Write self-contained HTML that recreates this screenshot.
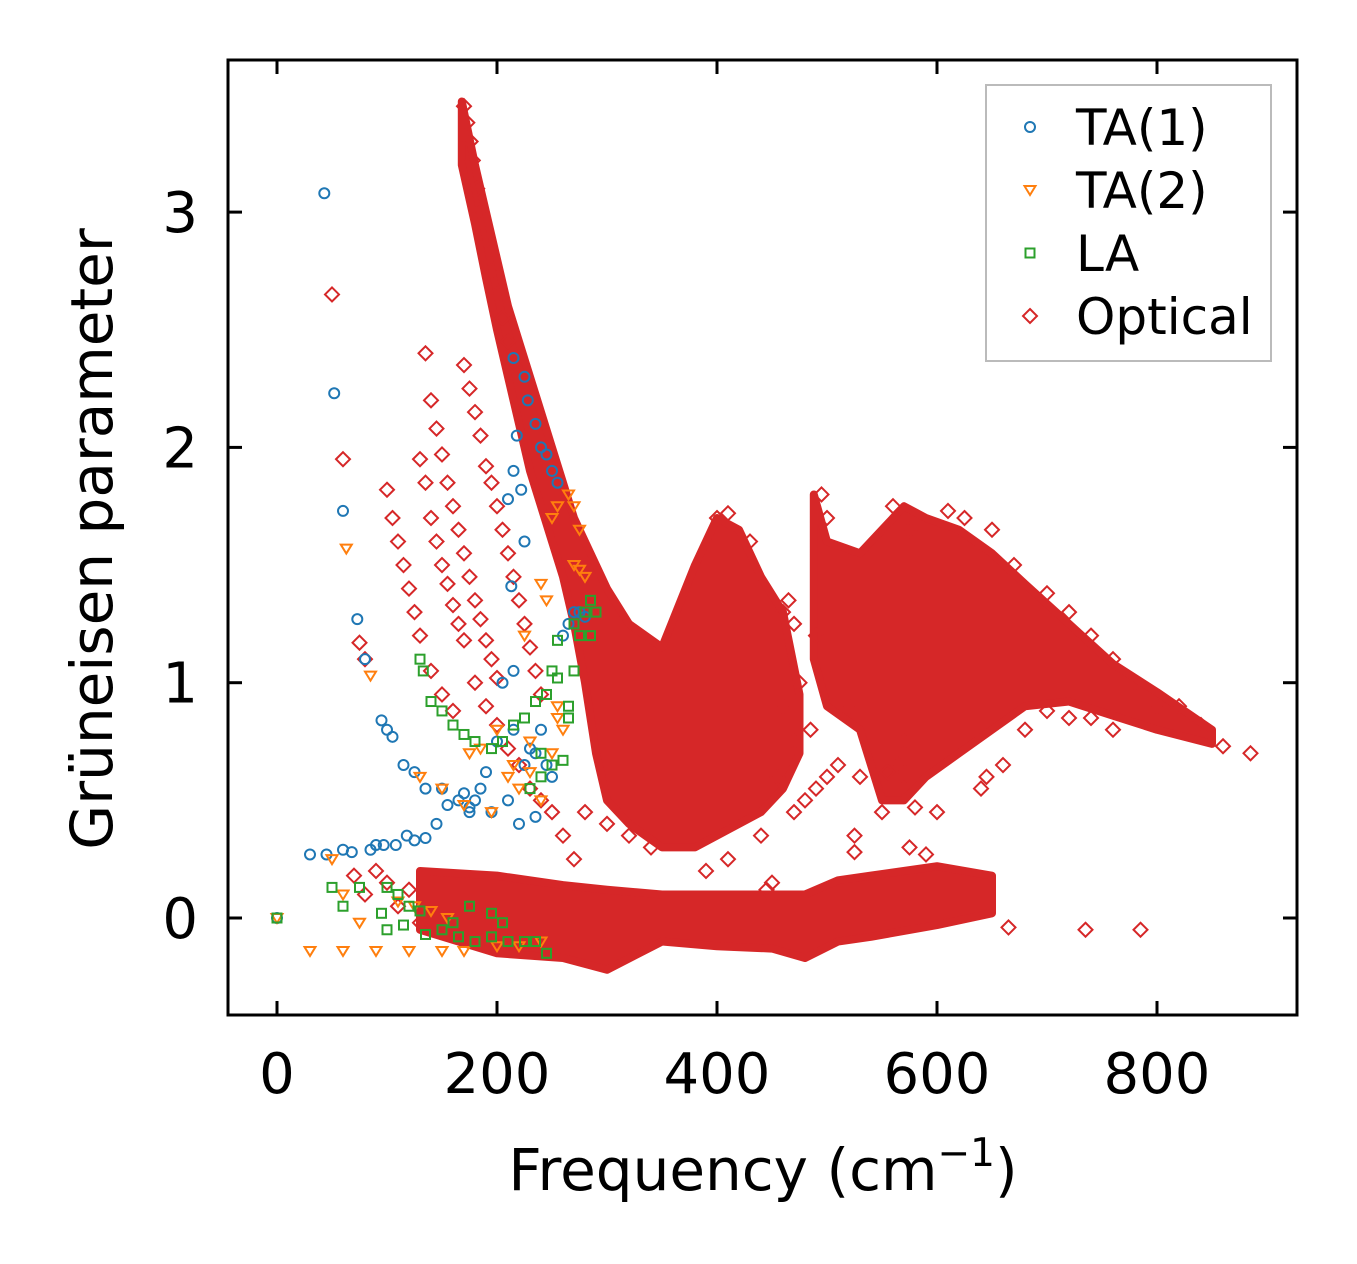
<!DOCTYPE html>
<html><head><meta charset="utf-8">
<style>
html,body{margin:0;padding:0;background:#fff;}
svg{display:block;font-family:"DejaVu Sans","Liberation Sans",sans-serif;}
</style></head>
<body>
<svg id="chart" width="1357" height="1264" viewBox="0 0 1357 1264" xmlns="http://www.w3.org/2000/svg">
<rect width="1357" height="1264" fill="#fff"/>
<g id="plot"></g>
<g id="axes"></g>
</svg>
<script>
const xTicks = [0, 200, 400, 600, 800];
const yTicks = [0, 1, 2, 3];
const ta1 = [[0,0],[30,0.27],[45,0.27],[60,0.29],[68,0.28],[85,0.29],[90,0.31],[97,0.31],[108,0.31],[118,0.35],[125,0.33],[135,0.34],[145,0.4],[155,0.48],[165,0.5],[175,0.45],[185,0.55],[195,0.45],[210,0.5],[220,0.4],[235,0.43],[115,0.65],[125,0.62],[135,0.55],[150,0.55],[170,0.53],[190,0.62],[200,0.75],[215,0.8],[230,0.72],[245,0.65],[95,0.84],[100,0.8],[105,0.77],[80,1.1],[73,1.27],[60,1.73],[52,2.23],[43,3.08],[205,1.0],[215,1.05],[213,1.41],[225,1.6],[210,1.78],[222,1.82],[215,1.9],[218,2.05],[215,2.38],[225,2.3],[228,2.2],[235,2.1],[240,2.0],[245,1.97],[250,1.9],[255,1.85],[260,1.2],[265,1.25],[270,1.3],[275,1.3],[280,1.28],[240,0.8],[250,0.6],[175,0.47],[180,0.5],[225,0.65],[235,0.7]];
const ta2 = [[0,0],[30,-0.14],[60,-0.14],[90,-0.14],[120,-0.14],[150,-0.14],[170,-0.14],[200,-0.12],[220,-0.12],[240,-0.1],[50,0.25],[60,0.1],[75,-0.02],[110,0.07],[125,0.05],[140,0.03],[155,0.0],[85,1.03],[63,1.57],[130,0.6],[150,0.55],[170,0.48],[195,0.45],[220,0.55],[240,0.5],[175,0.7],[200,0.8],[215,0.65],[230,0.62],[255,0.85],[225,1.2],[240,1.42],[245,1.35],[250,1.7],[255,1.75],[265,1.8],[270,1.75],[275,1.65],[270,1.5],[280,1.45],[275,1.48],[255,0.9],[260,0.8],[250,0.7],[230,0.75],[185,0.72],[210,0.6]];
const la = [[0,0],[50,0.13],[60,0.05],[75,0.13],[95,0.02],[100,0.13],[110,0.1],[120,0.05],[130,0.03],[100,-0.05],[115,-0.03],[135,-0.07],[150,-0.05],[165,-0.08],[180,-0.1],[195,-0.08],[210,-0.1],[225,-0.1],[235,-0.1],[245,-0.15],[160,-0.02],[175,0.05],[195,0.02],[205,-0.02],[130,1.1],[133,1.05],[140,0.92],[150,0.88],[160,0.82],[170,0.78],[180,0.75],[195,0.72],[205,0.75],[215,0.82],[225,0.85],[235,0.92],[245,0.95],[250,1.05],[255,1.02],[265,0.9],[270,1.05],[260,0.67],[250,0.65],[240,0.7],[265,0.85],[270,1.25],[280,1.3],[285,1.35],[290,1.3],[275,1.2],[285,1.2],[255,1.18],[230,0.55],[240,0.6]];
const optical = [[50,2.65],[60,1.95],[75,1.17],[80,1.1],[70,0.18],[80,0.1],[90,0.2],[100,0.15],[135,2.4],[140,2.2],[145,2.08],[150,1.97],[155,1.85],[160,1.75],[165,1.65],[170,1.55],[175,1.45],[180,1.35],[185,1.27],[190,1.18],[195,1.1],[200,1.02],[130,1.95],[135,1.85],[140,1.7],[145,1.6],[150,1.5],[155,1.42],[160,1.33],[165,1.25],[170,1.18],[100,1.82],[105,1.7],[110,1.6],[115,1.5],[120,1.4],[125,1.3],[130,1.2],[140,1.05],[150,0.95],[160,0.88],[170,2.35],[175,2.25],[180,2.15],[185,2.05],[190,1.92],[195,1.85],[200,1.75],[205,1.65],[210,1.55],[215,1.45],[220,1.35],[225,1.25],[230,1.15],[235,1.05],[240,0.95],[180,1.0],[190,0.9],[200,0.82],[210,0.72],[220,0.65],[230,0.55],[240,0.5],[250,0.45],[260,0.35],[270,0.25],[280,0.45],[300,0.4],[320,0.35],[340,0.3],[390,0.2],[410,0.25],[440,0.35],[450,0.15],[470,0.45],[490,0.55],[500,0.6],[510,0.65],[520,0.9],[525,0.35],[525,0.28],[530,0.6],[550,0.45],[555,0.62],[565,0.65],[570,0.55],[575,0.3],[590,0.27],[600,0.45],[580,0.47],[570,0.75],[640,0.55],[645,0.6],[660,0.65],[680,0.8],[700,0.88],[720,0.85],[740,0.85],[760,0.8],[800,0.9],[860,0.73],[885,0.7],[665,-0.04],[735,-0.05],[785,-0.05],[445,0.12],[450,0.08],[495,1.8],[500,1.7],[460,1.3],[465,1.35],[470,1.25],[400,1.7],[410,1.72],[430,1.6],[610,1.73],[560,1.75],[575,1.65],[625,1.7],[650,1.65],[670,1.5],[700,1.38],[720,1.3],[740,1.2],[760,1.1],[780,1.0],[820,0.9],[840,0.82],[170,3.45],[173,3.38],[176,3.3],[178,3.22],[182,3.1],[185,3.0],[190,2.88],[195,2.75],[200,2.65],[205,2.55],[210,2.45],[215,2.35],[120,0.12],[110,0.05],[130,-0.02],[470,0.75],[480,0.5],[460,0.9],[475,1.0],[485,0.8],[455,0.6],[490,1.2]];
// dense bands: [frequency, low, high]
const bandMain = [[168,3.2,3.47],[180,2.95,3.2],[190,2.72,3.0],[200,2.5,2.8],[210,2.3,2.6],[220,2.1,2.45],[230,1.9,2.3],[240,1.75,2.15],[250,1.6,2.0],[260,1.45,1.85],[270,1.25,1.7],[280,1.0,1.6],[290,0.7,1.5],[300,0.5,1.4],[320,0.4,1.25],[350,0.3,1.15],[380,0.3,1.5],[400,0.35,1.7],[420,0.4,1.65],[440,0.45,1.45],[460,0.55,1.3],[475,0.7,0.95]];
const bandMid = [[488,1.1,1.8],[500,0.9,1.6],[530,0.8,1.55],[550,0.5,1.65],[570,0.5,1.75],[590,0.6,1.7],[620,0.7,1.65],[650,0.8,1.55],[680,0.9,1.42],[720,0.92,1.25],[760,0.86,1.08],[800,0.8,0.96],[850,0.74,0.8]];
const bandZero = [[130,-0.05,0.2],[200,-0.15,0.18],[260,-0.17,0.14],[300,-0.22,0.12],[350,-0.1,0.1],[400,-0.12,0.1],[450,-0.13,0.1],[480,-0.17,0.1],[510,-0.1,0.16],[540,-0.08,0.18],[600,-0.03,0.22],[650,0.02,0.18]];

const X0=277, XS=1.1, Y0=918, YS=235.3;
const xs = v => X0 + v*XS;
const ys = v => Y0 - v*YS;
const NS="http://www.w3.org/2000/svg";
const plot=document.getElementById('plot');
const axes=document.getElementById('axes');
function mk(tag, attrs, parent){const e=document.createElementNS(NS,tag);for(const k in attrs)e.setAttribute(k,attrs[k]);parent.appendChild(e);return e;}

const RED="#d62728";
function band(arr, name){
  let pts = arr.map(d=>xs(d[0])+","+ys(d[2]));
  pts = pts.concat(arr.slice().reverse().map(d=>xs(d[0])+","+ys(d[1])));
  const p = mk('polygon',{points:pts.join(' '),fill:RED,stroke:RED,'stroke-width':8,'stroke-linejoin':'round'},plot);
  
  
}
band(bandMain,'optical-dense-main');
band(bandMid,'optical-dense-high');
band(bandZero,'optical-dense-zero');

function diamond(cx,cy,parent){return mk('polygon',{points:`${cx},${cy-7} ${cx+7},${cy} ${cx},${cy+7} ${cx-7},${cy}`,fill:'none',stroke:RED,'stroke-width':2},parent);}
function circle(cx,cy,parent){return mk('circle',{cx:cx,cy:cy,r:5,fill:'none',stroke:'#1f77b4','stroke-width':2},parent);}
function tri(cx,cy,parent){return mk('polygon',{points:`${cx-5.5},${cy-4} ${cx+5.5},${cy-4} ${cx},${cy+5}`,fill:'none',stroke:'#ff7f0e','stroke-width':2},parent);}
function square(cx,cy,parent){return mk('rect',{x:cx-4.5,y:cy-4.5,width:9,height:9,fill:'none',stroke:'#2ca02c','stroke-width':2},parent);}

optical.forEach(d=>{const e=diamond(xs(d[0]),ys(d[1]),plot);

});
ta1.forEach(d=>{const e=circle(xs(d[0]),ys(d[1]),plot);

});
ta2.forEach(d=>{const e=tri(xs(d[0]),ys(d[1]),plot);

});
la.forEach(d=>{const e=square(xs(d[0]),ys(d[1]),plot);

});

const fr=mk('rect',{x:228,y:60,width:1069,height:955,fill:'none',stroke:'#000','stroke-width':3},axes);


xTicks.forEach(t=>{
  const x=xs(t);
  mk('line',{x1:x,y1:1015,x2:x,y2:1001,stroke:'#000','stroke-width':3},axes);
  mk('line',{x1:x,y1:60,x2:x,y2:74,stroke:'#000','stroke-width':3},axes);
  const l=mk('text',{x:x,y:1093,'font-size':56,'text-anchor':'middle'},axes);
  l.textContent=t;
  
  
});
yTicks.forEach(t=>{
  const y=ys(t);
  mk('line',{x1:228,y1:y,x2:242,y2:y,stroke:'#000','stroke-width':3},axes);
  mk('line',{x1:1297,y1:y,x2:1283,y2:y,stroke:'#000','stroke-width':3},axes);
  const l=mk('text',{x:198,y:y+20,'font-size':56,'text-anchor':'end'},axes);
  l.textContent=t;
  
  
});
</script>
<svg style="position:absolute;left:0;top:0" width="1357" height="1264" xmlns="http://www.w3.org/2000/svg">
<text x="763" y="1190" font-size="58" text-anchor="middle" font-family="DejaVu Sans, Liberation Sans, sans-serif">Frequency (cm<tspan dy="-24" font-size="39">−1</tspan><tspan dy="24">)</tspan></text>
<text transform="translate(112,539) rotate(-90)" font-size="58" text-anchor="middle" font-family="DejaVu Sans, Liberation Sans, sans-serif">Grüneisen parameter</text>
<g font-family="DejaVu Sans, Liberation Sans, sans-serif" font-size="50">
<rect x="986" y="85" width="285" height="276" fill="#fff" fill-opacity="0.8" stroke="#bbb" stroke-width="2"/>
<g><circle cx="1030" cy="127" r="5" fill="none" stroke="#1f77b4" stroke-width="2"/><text x="1076" y="145">TA(1)</text></g>
<g><polygon points="1024.5,186 1035.5,186 1030,195" fill="none" stroke="#ff7f0e" stroke-width="2"/><text x="1076" y="208">TA(2)</text></g>
<g><rect x="1025.5" y="248.5" width="9" height="9" fill="none" stroke="#2ca02c" stroke-width="2"/><text x="1076" y="271">LA</text></g>
<g><polygon points="1030,309 1037,316 1030,323 1023,316" fill="none" stroke="#d62728" stroke-width="2"/><text x="1076" y="334">Optical</text></g>
</g>
</svg>
</body></html>
